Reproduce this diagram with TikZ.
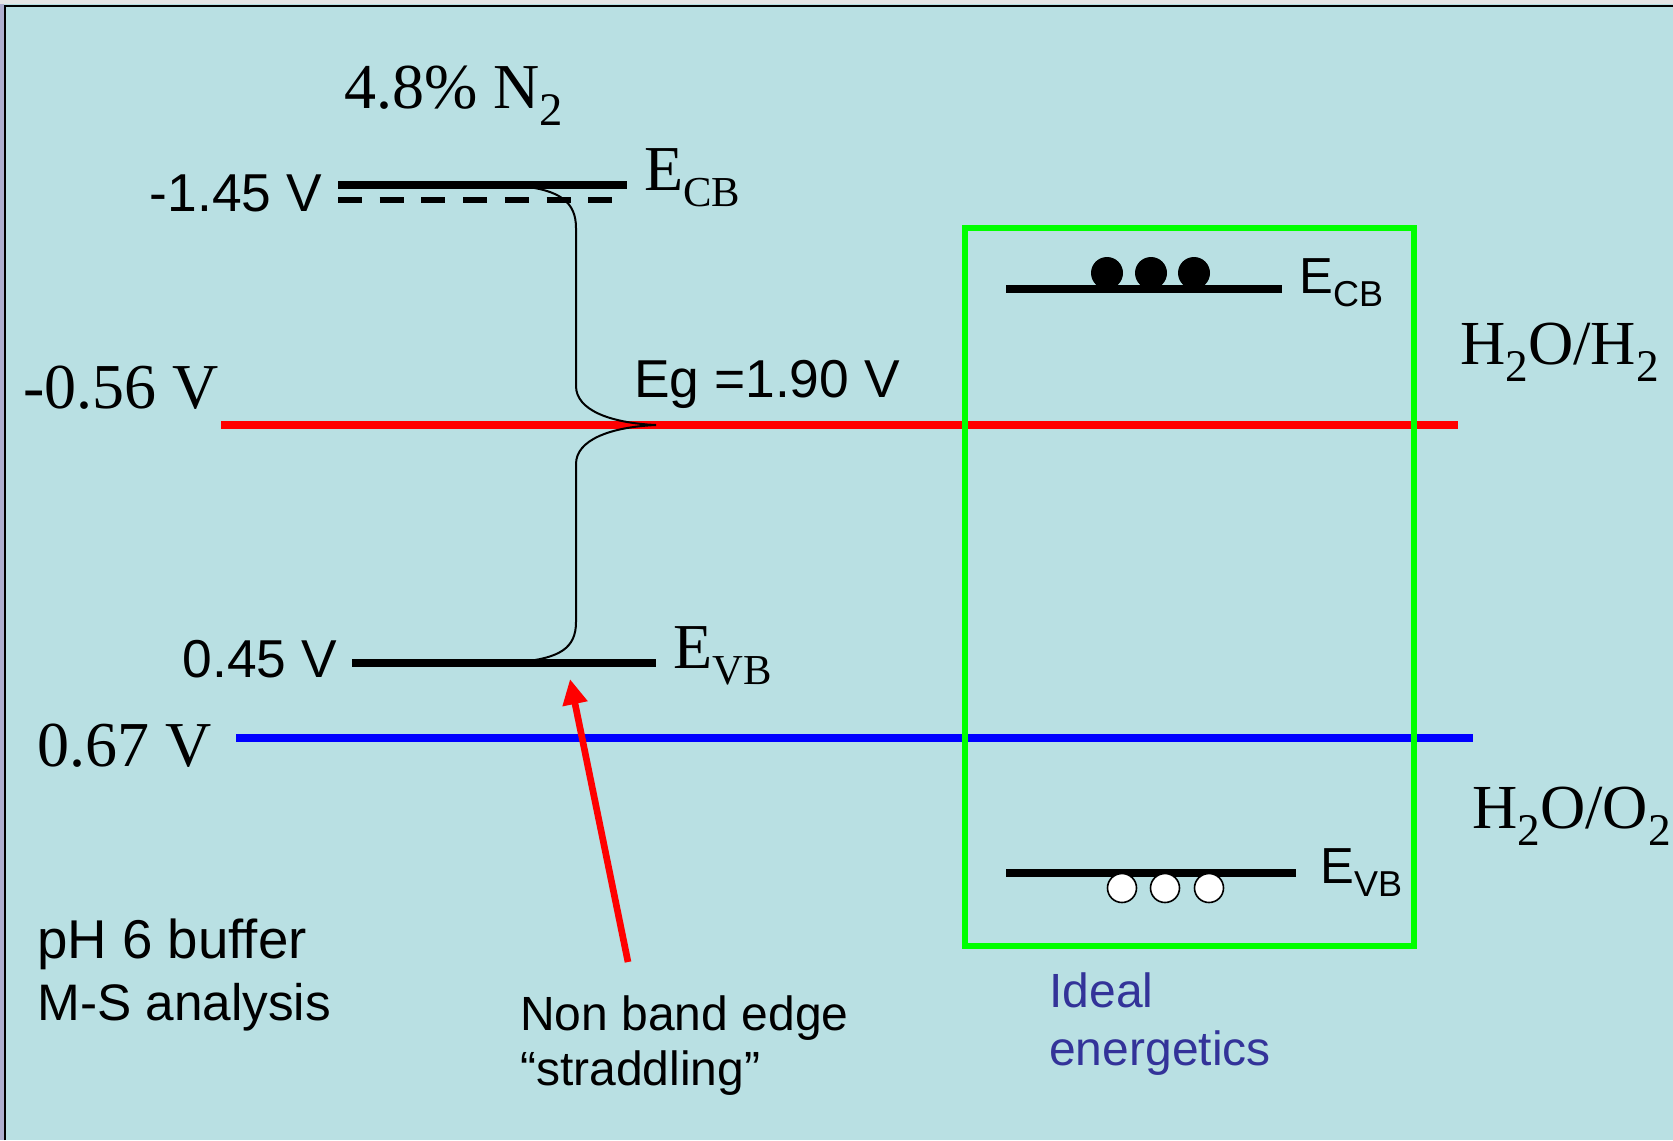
\documentclass[tikz,border=0pt]{standalone}
\usepackage{fontspec}
\setmainfont{Liberation Serif}
\newfontfamily\arialf{Liberation Sans}
\usetikzlibrary{arrows.meta}
\definecolor{bgc}{RGB}{185,224,227}
\definecolor{idealc}{RGB}{51,51,153}
\definecolor{gboxc}{RGB}{0,255,0}
\newcommand\dn[3]{\raisebox{-#1pt}{\fontsize{#2}{#2}\selectfont #3}}
\begin{document}
\begin{tikzpicture}[x=0.75pt,y=-0.75pt,
  serif/.style={inner sep=0pt, font=\fontsize{48}{56}\selectfont},
  sans/.style={inner sep=0pt, font=\arialf\fontsize{40}{48}\selectfont},
  sanssm/.style={inner sep=0pt, font=\arialf\fontsize{36}{43}\selectfont},
  sansmd/.style={inner sep=0pt, font=\arialf\fontsize{39.5}{47}\selectfont},
  level/.style={line width=5.6pt},
  gapcurve/.style={line width=1.5pt},
  redox/.style={line width=5.6pt},
  gbox/.style={draw=gboxc, line width=4.8pt},
  elec/.style={fill=black},
  hole/.style={fill=white, draw=black, line width=1.2pt}]
\useasboundingbox (0,0) rectangle (1673,1140);
\fill[bgc] (0,0) rectangle (1673,1140);
\fill[gray!20] (0,0) rectangle (1673,4);
\fill[blue!25!gray!50] (0,4) rectangle (3.5,1140);
\draw[line width=2pt] (5,1140) -- (5,6) -- (1673,6);

% left band diagram
\coordinate (cbL) at (338,185); \coordinate (cbR) at (627,185);
\coordinate (cbdL) at (338,200); \coordinate (cbdR) at (617,200);
\coordinate (vbL) at (352,663); \coordinate (vbR) at (656,663);
\draw[level] (cbL) -- (cbR);
\draw[line width=4.5pt, dash pattern=on 18pt off 13.3pt] (cbdL) -- (cbdR);
\draw[level] (vbL) -- (vbR);

\node[serif, anchor=base west] (n2) at (344,108) {4.8\% N\dn{13}{35}{2}};
\node[sans, anchor=base east] (v145) at (322,211) {-1.45 V};
\node[serif, anchor=base west] (ecbL) at (644,190) {E\dn{12}{32}{CB}};
\node[sans, anchor=base east] (v045) at (337,677) {0.45 V};
\node[serif, anchor=base west] (evbL) at (673,668) {E\dn{12}{32}{VB}};

% redox lines
\coordinate (rL) at (221,425); \coordinate (rR) at (1458,425);
\coordinate (bL) at (236,738); \coordinate (bR) at (1473,738);
\draw[redox, red] (rL) -- (rR);
\draw[redox, blue] (bL) -- (bR);
\node[serif, anchor=base west] (v056) at (23,408) {-0.56 V};
\node[serif, anchor=base west] (v067) at (37,766) {0.67 V};
\node[serif, font=\fontsize{47}{55}\selectfont, anchor=base west] (h2) at (1460,364) {H\dn{13}{34}{2}O/H\dn{13}{34}{2}};
\node[serif, font=\fontsize{47}{55}\selectfont, anchor=base west] (o2) at (1472,828) {H\dn{13}{34}{2}O/O\dn{13}{34}{2}};

% band-gap bracket curve
\coordinate (cstart) at (520,186);
\coordinate (ctip) at (656,425);
\coordinate (cend) at (520,662);
\draw[gapcurve] (cstart) .. controls (560,190) and (576,202) .. (576,228)
  -- (576,386) .. controls (576,410) and (610,423) .. (ctip)
  .. controls (610,427) and (576,440) .. (576,464)
  -- (576,622) .. controls (576,648) and (560,658) .. (cend);
\node[sans, anchor=base west] (eg) at (634,397) {Eg =1.90 V};

% red arrow
\coordinate (atail) at (628,962);
\coordinate (ahead) at (570,679);
\draw[red, line width=5pt, -{Triangle[length=19pt,width=18pt]}] (atail) -- (ahead);
\node[sanssm, anchor=base west] (nb1) at (520,1030) {Non band edge};
\node[sanssm, anchor=base west] (nb2) at (520,1085) {“straddling”};

\node[sansmd, font=\arialf\fontsize{41}{48}\selectfont, anchor=base west] (ph) at (37,958) {pH 6 buffer};
\node[sansmd, font=\arialf\fontsize{38.5}{46}\selectfont, anchor=base west] (ms) at (37,1020) {M-S analysis};

% ideal box
\draw[gbox] (965,228) rectangle (1414,946);
\coordinate (icbL) at (1006,289); \coordinate (icbR) at (1282,289);
\coordinate (ivbL) at (1006,873); \coordinate (ivbR) at (1296,873);
\draw[level] (icbL) -- (icbR);
\draw[level] (ivbL) -- (ivbR);
\foreach \xx in {1107,1151,1194} \fill[elec] (\xx,273) circle[radius=16];
\foreach \xx in {1122,1165,1209} \draw[hole] (\xx,888) circle[radius=14.5];
\node[sans, font=\arialf\fontsize{38}{46}\selectfont, anchor=base west] (ecbR) at (1299,293) {E\dn{10}{27}{CB}};
\node[sans, font=\arialf\fontsize{38}{46}\selectfont, anchor=base west] (evbR) at (1320,883) {E\dn{10}{27}{VB}};
\node[sanssm, text=idealc, anchor=base west] (id1) at (1049,1007) {Ideal};
\node[sanssm, text=idealc, anchor=base west] (id2) at (1049,1065) {energetics};
\end{tikzpicture}
\end{document}
